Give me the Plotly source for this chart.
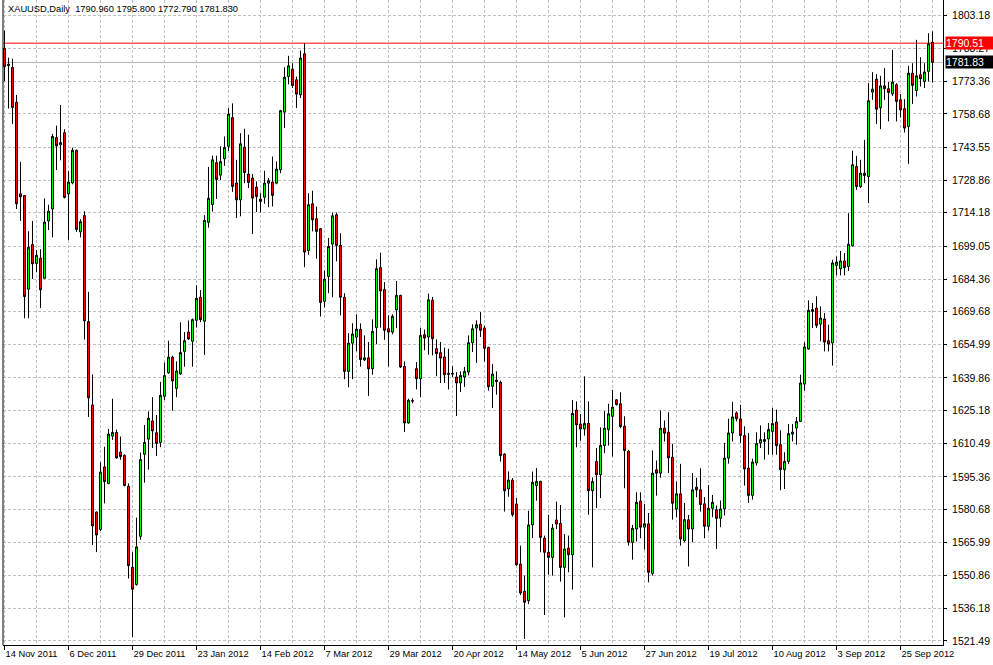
import plotly.graph_objects as go

# ---------------- data ----------------
symbol_text = "XAUUSD,Daily  1790.960 1795.800 1772.790 1781.830"

x_tick_labels = ["14 Nov 2011", "6 Dec 2011", "29 Dec 2011", "23 Jan 2012", "14 Feb 2012",
                 "7 Mar 2012", "29 Mar 2012", "20 Apr 2012", "14 May 2012", "5 Jun 2012",
                 "27 Jun 2012", "19 Jul 2012", "10 Aug 2012", "3 Sep 2012", "25 Sep 2012"]

y_tick_values = [1803.18, 1788.27, 1773.36, 1758.68, 1743.55, 1728.86, 1714.18, 1699.05,
                 1684.36, 1669.68, 1654.99, 1639.86, 1625.18, 1610.49, 1595.36, 1580.68,
                 1565.99, 1550.86, 1536.18, 1521.49]

level_line = 1790.51
bid_line = 1781.83

open_ = [1788.1, 1781.0, 1779.6, 1763.9, 1722.7, 1721.9, 1679.8, 1699.9, 1691.4, 1693.7,
         1684.7, 1710.5, 1715.9, 1748.0, 1744.8, 1750.2, 1722.7, 1727.6, 1742.3, 1705.6,
         1712.9, 1665.2, 1627.7, 1579.5, 1571.7, 1599.8, 1592.4, 1613.7, 1615.3, 1606.5,
         1605.0, 1591.1, 1554.6, 1546.9, 1568.6, 1605.5, 1612.3, 1620.5, 1615.2, 1610.8,
         1631.6, 1642.2, 1649.2, 1635.2, 1641.7, 1651.8, 1660.5, 1656.4, 1665.8, 1676.2,
         1665.4, 1709.9, 1717.9, 1736.7, 1731.1, 1738.5, 1744.1, 1757.0, 1727.6, 1720.0,
         1743.7, 1731.6, 1729.8, 1725.7, 1720.3, 1721.2, 1727.5, 1728.0, 1727.5, 1733.5,
         1759.5, 1775.5, 1778.8, 1774.0, 1767.3, 1785.7, 1697.2, 1718.2, 1711.5, 1707.0,
         1674.3, 1685.5, 1700.1, 1713.3, 1699.5, 1676.2, 1642.8, 1655.5, 1658.2, 1661.7,
         1648.0, 1648.9, 1644.0, 1662.5, 1689.5, 1679.6, 1662.0, 1660.5, 1670.5, 1677.0,
         1645.0, 1619.6, 1629.4, 1644.0, 1639.5, 1659.3, 1658.3, 1674.8, 1653.0, 1651.2,
         1649.3, 1641.9, 1641.6, 1640.3, 1637.6, 1640.3, 1642.5, 1655.7, 1662.3, 1664.0,
         1662.3, 1653.6, 1636.1, 1638.9, 1637.9, 1605.6, 1589.9, 1593.9, 1583.1, 1556.1,
         1543.8, 1539.6, 1573.8, 1591.4, 1593.3, 1567.7, 1561.4, 1559.1, 1575.9, 1574.4,
         1554.6, 1563.3, 1560.3, 1625.4, 1619.1, 1616.9, 1619.4, 1589.1, 1602.3, 1596.3,
         1609.4, 1616.6, 1622.6, 1630.0, 1628.2, 1618.1, 1606.9, 1565.9, 1571.9, 1584.4,
         1572.7, 1574.2, 1551.9, 1598.5, 1597.0, 1617.2, 1615.4, 1604.2, 1580.9, 1587.7,
         1566.7, 1576.0, 1571.9, 1590.7, 1589.5, 1583.2, 1573.1, 1581.2, 1580.5, 1576.7,
         1581.0, 1603.8, 1615.1, 1624.1, 1621.4, 1613.9, 1599.3, 1587.0, 1601.6, 1610.6,
         1611.3, 1612.4, 1615.8, 1620.0, 1609.8, 1598.6, 1602.3, 1614.6, 1617.3, 1620.3,
         1637.1, 1652.9, 1669.8, 1671.3, 1664.1, 1666.4, 1656.6, 1655.6, 1690.5, 1689.0,
         1692.5, 1690.0, 1699.3, 1735.0, 1726.0, 1732.0, 1730.5, 1768.5, 1774.3, 1761.5,
         1771.3, 1770.0, 1767.7, 1771.8, 1765.0, 1761.0, 1753.0, 1777.0, 1769.2, 1776.3,
         1773.3, 1777.8, 1790.96]

high = [1796.2, 1784.0, 1783.5, 1767.2, 1737.1, 1722.2, 1705.9, 1710.5, 1697.4, 1697.8,
        1720.6, 1717.8, 1749.7, 1753.4, 1762.7, 1751.8, 1732.9, 1743.5, 1742.6, 1711.3,
        1714.9, 1678.6, 1641.4, 1579.8, 1601.9, 1608.9, 1616.9, 1630.5, 1616.6, 1613.5,
        1605.5, 1592.4, 1561.4, 1577.0, 1606.3, 1618.7, 1624.8, 1631.2, 1623.2, 1638.1,
        1646.8, 1656.6, 1649.8, 1647.3, 1664.9, 1660.5, 1665.7, 1666.6, 1681.5, 1679.4,
        1713.1, 1734.8, 1739.9, 1739.9, 1744.1, 1748.5, 1761.3, 1763.4, 1738.0, 1750.0,
        1752.0, 1749.3, 1731.6, 1728.3, 1723.0, 1733.1, 1729.8, 1739.5, 1737.3, 1760.5,
        1779.7, 1784.8, 1781.5, 1775.5, 1787.2, 1790.5, 1723.0, 1724.1, 1717.0, 1707.3,
        1688.2, 1702.8, 1714.3, 1714.3, 1705.0, 1678.0, 1660.0, 1664.5, 1668.5, 1664.4,
        1659.0, 1656.0, 1666.2, 1693.2, 1696.2, 1683.0, 1668.0, 1668.5, 1683.5, 1677.3,
        1647.3, 1630.5, 1630.7, 1647.0, 1662.3, 1661.6, 1677.8, 1676.3, 1657.1, 1656.0,
        1653.5, 1653.0, 1645.2, 1642.5, 1642.8, 1644.8, 1659.0, 1664.0, 1665.8, 1669.5,
        1663.4, 1653.9, 1646.1, 1642.8, 1638.6, 1605.9, 1597.8, 1594.8, 1585.8, 1564.4,
        1550.9, 1580.1, 1597.7, 1599.3, 1593.6, 1568.9, 1578.3, 1574.1, 1584.2, 1582.7,
        1569.6, 1568.9, 1629.9, 1629.3, 1623.6, 1640.6, 1629.3, 1595.1, 1608.3, 1617.6,
        1624.9, 1628.2, 1634.5, 1630.4, 1633.4, 1622.6, 1607.5, 1573.7, 1588.4, 1588.4,
        1583.2, 1579.1, 1607.2, 1602.7, 1625.2, 1620.7, 1624.4, 1610.2, 1593.2, 1601.2,
        1583.6, 1578.2, 1597.1, 1594.9, 1599.2, 1586.2, 1591.7, 1587.2, 1582.4, 1584.7,
        1610.6, 1621.5, 1629.1, 1624.8, 1627.8, 1618.1, 1615.1, 1603.5, 1615.4, 1618.5,
        1615.4, 1619.6, 1626.3, 1625.6, 1616.3, 1606.4, 1619.1, 1619.1, 1622.3, 1641.3,
        1655.9, 1674.8, 1673.6, 1676.6, 1672.1, 1669.1, 1663.8, 1693.0, 1694.5, 1697.0,
        1696.0, 1714.0, 1742.1, 1739.8, 1738.0, 1747.0, 1772.5, 1777.5, 1776.6, 1775.8,
        1779.3, 1773.0, 1787.5, 1772.5, 1767.6, 1765.3, 1780.3, 1781.5, 1792.0, 1784.2,
        1781.5, 1795.0, 1795.80]

low = [1773.4, 1761.1, 1754.1, 1715.9, 1710.5, 1666.7, 1666.7, 1684.4, 1687.6, 1671.3,
       1684.7, 1706.4, 1703.1, 1733.4, 1737.8, 1720.6, 1702.0, 1727.0, 1705.6, 1703.1,
       1657.1, 1622.3, 1564.7, 1561.5, 1571.0, 1583.4, 1592.0, 1612.0, 1603.5, 1603.0,
       1591.1, 1549.6, 1523.3, 1546.4, 1567.0, 1592.7, 1598.6, 1608.3, 1604.7, 1608.7,
       1629.9, 1641.7, 1625.1, 1631.2, 1641.2, 1644.9, 1657.0, 1644.9, 1662.6, 1665.0,
       1650.2, 1707.5, 1714.7, 1720.4, 1728.9, 1735.3, 1742.0, 1723.6, 1711.8, 1712.6,
       1727.5, 1725.3, 1704.6, 1714.5, 1714.3, 1718.2, 1716.7, 1717.0, 1727.0, 1732.0,
       1752.3, 1772.0, 1770.3, 1761.3, 1765.8, 1689.7, 1695.3, 1705.8, 1693.5, 1667.5,
       1671.6, 1678.0, 1676.2, 1692.3, 1668.0, 1639.3, 1635.7, 1639.3, 1651.8, 1644.9,
       1647.5, 1631.7, 1641.3, 1655.0, 1662.5, 1657.0, 1645.0, 1659.5, 1662.3, 1644.3,
       1615.5, 1619.3, 1628.4, 1634.7, 1631.3, 1652.3, 1650.3, 1650.0, 1640.6, 1637.6,
       1637.6, 1634.7, 1640.3, 1622.7, 1633.5, 1635.8, 1641.0, 1651.5, 1646.6, 1658.3,
       1647.2, 1634.1, 1626.3, 1632.3, 1602.2, 1579.7, 1586.4, 1577.4, 1555.3, 1542.2,
       1522.4, 1538.1, 1567.8, 1584.6, 1561.4, 1533.2, 1551.3, 1550.9, 1571.9, 1548.2,
       1532.1, 1552.4, 1544.6, 1608.6, 1611.6, 1613.9, 1578.3, 1554.6, 1581.3, 1585.8,
       1606.0, 1609.4, 1604.5, 1627.4, 1617.2, 1590.2, 1564.4, 1558.1, 1566.2, 1567.7,
       1562.6, 1547.9, 1550.9, 1586.9, 1594.9, 1611.2, 1597.1, 1576.1, 1577.2, 1564.4,
       1565.9, 1555.0, 1565.9, 1586.2, 1579.7, 1567.7, 1571.2, 1577.2, 1562.9, 1572.7,
       1578.0, 1601.3, 1611.3, 1620.3, 1610.6, 1591.4, 1583.6, 1585.1, 1600.4, 1608.3,
       1603.1, 1605.3, 1605.3, 1605.3, 1589.3, 1589.9, 1601.1, 1611.3, 1609.8, 1620.0,
       1634.1, 1652.6, 1662.3, 1662.3, 1656.3, 1651.8, 1651.8, 1645.4, 1686.0, 1686.0,
       1686.0, 1688.0, 1699.0, 1724.5, 1725.3, 1727.5, 1718.5, 1765.0, 1754.1, 1751.8,
       1765.0, 1755.3, 1766.8, 1755.3, 1757.1, 1750.3, 1736.2, 1763.1, 1766.5, 1771.0,
       1770.3, 1773.3, 1772.79]

close = [1779.9, 1780.4, 1761.6, 1718.2, 1721.4, 1676.5, 1698.6, 1691.2, 1695.0, 1679.5,
         1710.0, 1714.9, 1748.5, 1744.3, 1745.8, 1721.1, 1728.0, 1742.3, 1706.7, 1710.2,
         1665.6, 1630.9, 1573.3, 1569.2, 1597.5, 1593.2, 1614.6, 1615.3, 1603.9, 1604.5,
         1591.4, 1555.4, 1544.8, 1563.8, 1603.1, 1610.8, 1621.7, 1616.0, 1610.4, 1632.0,
         1640.9, 1649.2, 1638.5, 1643.0, 1651.3, 1656.6, 1657.4, 1666.1, 1675.7, 1666.1,
         1710.7, 1720.7, 1738.0, 1729.2, 1737.2, 1743.6, 1758.6, 1726.0, 1720.0, 1745.2,
         1732.3, 1727.8, 1720.8, 1721.5, 1719.3, 1727.5, 1728.6, 1722.0, 1733.8, 1760.1,
         1775.2, 1780.3, 1771.5, 1767.6, 1783.8, 1696.5, 1717.8, 1711.0, 1705.8, 1673.8,
         1684.3, 1699.0, 1712.8, 1699.5, 1676.2, 1642.8, 1655.5, 1659.6, 1661.8, 1648.1,
         1648.9, 1644.0, 1660.8, 1689.0, 1679.0, 1661.3, 1660.5, 1667.6, 1677.0, 1644.8,
         1619.6, 1629.8, 1629.6, 1639.5, 1659.0, 1657.8, 1675.0, 1657.5, 1650.8, 1648.8,
         1641.3, 1641.5, 1641.8, 1637.6, 1641.0, 1642.8, 1655.7, 1662.0, 1663.8, 1661.3,
         1653.2, 1635.9, 1641.6, 1638.2, 1604.9, 1589.1, 1593.9, 1578.3, 1555.8, 1543.1,
         1538.9, 1573.7, 1592.9, 1593.3, 1568.1, 1561.4, 1559.1, 1572.3, 1574.1, 1554.6,
         1562.9, 1560.3, 1623.9, 1618.8, 1616.9, 1619.4, 1589.1, 1593.3, 1596.3, 1609.5,
         1617.2, 1623.7, 1626.7, 1627.9, 1618.0, 1607.2, 1565.9, 1572.2, 1583.9, 1572.7,
         1574.2, 1552.4, 1597.0, 1597.0, 1617.2, 1615.0, 1603.9, 1583.5, 1587.7, 1567.4,
         1576.1, 1571.9, 1589.5, 1589.5, 1582.9, 1573.1, 1581.2, 1583.9, 1576.7, 1580.9,
         1603.8, 1615.1, 1622.3, 1621.5, 1614.0, 1598.9, 1587.0, 1602.0, 1610.3, 1612.1,
         1612.1, 1616.6, 1619.3, 1609.4, 1598.6, 1602.3, 1614.8, 1615.5, 1620.3, 1637.6,
         1653.8, 1670.3, 1670.6, 1663.5, 1666.8, 1656.0, 1655.1, 1691.6, 1692.0, 1692.5,
         1689.5, 1700.0, 1735.8, 1726.0, 1732.0, 1731.0, 1764.6, 1769.8, 1760.8, 1771.3,
         1770.0, 1768.3, 1773.0, 1764.3, 1760.5, 1752.3, 1777.0, 1771.5, 1775.8, 1774.5,
         1777.5, 1790.2, 1781.83]

# ---------------- figure ----------------
bars = list(range(len(open_)))
label_every = 16
tick_pos = [k * label_every for k in range(len(x_tick_labels))]
minor_pos = [p + 8 for p in tick_pos]

FONT = "Liberation Sans"
GRID = "#C0C0C0"

fig = go.Figure(go.Candlestick(
    x=bars, open=open_, high=high, low=low, close=close,
    increasing=dict(fillcolor="#00FF00", line=dict(color="black", width=1)),
    decreasing=dict(fillcolor="#FF0000", line=dict(color="black", width=1)),
    whiskerwidth=0, hoverinfo="skip", showlegend=False,
))

fig.add_shape(type="line", xref="paper", x0=0, x1=1, yref="y", y0=bid_line, y1=bid_line,
              line=dict(color="#B4B4B4", width=1), layer="below")
fig.add_shape(type="line", xref="paper", x0=0, x1=1, yref="y", y0=level_line, y1=level_line,
              line=dict(color="#FF0000", width=1), layer="below")
fig.add_shape(type="line", xref="paper", x0=0, x1=0, yref="paper", y0=0, y1=1,
              line=dict(color="black", width=1))

fig.add_annotation(xref="paper", x=1, xanchor="left", xshift=2, yref="y", y=level_line,
                   text=f"{level_line:.2f}", showarrow=False, bgcolor="#FF0000",
                   font=dict(family=FONT, size=10.5, color="white"), align="left",
                   width=52, height=12, borderpad=0)
fig.add_annotation(xref="paper", x=1, xanchor="left", xshift=2, yref="y", y=bid_line,
                   text=f"{bid_line:.2f}", showarrow=False, bgcolor="#000000",
                   font=dict(family=FONT, size=10.5, color="white"), align="left",
                   width=52, height=12, borderpad=0)
fig.add_annotation(xref="paper", x=0, xanchor="left", xshift=3, yref="paper", y=1,
                   yanchor="top", yshift=-2, text=symbol_text, showarrow=False,
                   font=dict(family=FONT, size=9.3, color="black"))

fig.update_layout(
    width=993, height=665,
    margin=dict(l=3, r=50, t=0, b=20),
    paper_bgcolor="white", plot_bgcolor="white",
    boxgap=0.5, boxgroupgap=0,
    xaxis=dict(
        range=[-0.375, 234.625], rangeslider=dict(visible=False),
        tickmode="array", tickvals=tick_pos, ticktext=x_tick_labels,
        ticks="outside", ticklen=4, tickcolor="black", tickwidth=1,
        ticklabelposition="outside right",
        tickfont=dict(family=FONT, size=9.3, color="black"),
        showline=True, linecolor="black", linewidth=1,
        showgrid=True, gridcolor=GRID, gridwidth=1, griddash="3px,2px",
        minor=dict(tickmode="array", tickvals=minor_pos, showgrid=True,
                   gridcolor=GRID, gridwidth=1, griddash="3px,2px", ticks=""),
        zeroline=False, fixedrange=True,
    ),
    yaxis=dict(
        side="right", range=[1519.68, 1809.93],
        tickmode="array", tickvals=y_tick_values,
        ticktext=[f"{v:.2f}" for v in y_tick_values],
        ticks="outside", ticklen=3, tickcolor="black", tickwidth=1,
        ticklabelstandoff=3,
        tickfont=dict(family=FONT, size=10.5, color="black"),
        showline=True, linecolor="black", linewidth=1,
        showgrid=True, gridcolor=GRID, gridwidth=1, griddash="3px,2px",
        zeroline=False, fixedrange=True,
    ),
)

fig.write_html("out.html", config={"displayModeBar": False},
               post_script="document.body.style.margin='0px';document.body.style.padding='0px';")
